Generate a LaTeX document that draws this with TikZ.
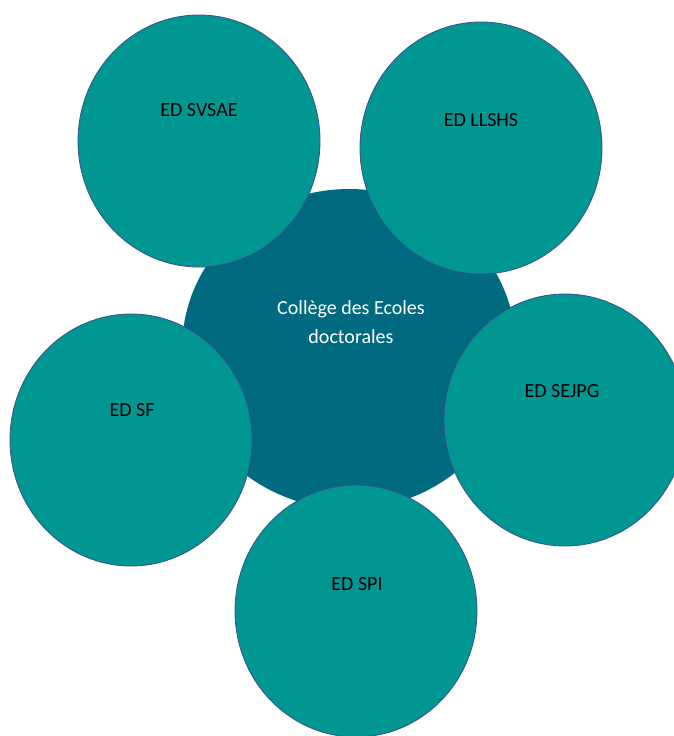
\documentclass[tikz,border=0pt]{standalone}
\usepackage{fontspec}
\setmainfont{Carlito}
\usetikzlibrary{shapes.geometric}
\definecolor{edteal}{RGB}{0,150,146}
\definecolor{collegeblue}{RGB}{0,106,128}
\definecolor{rimblue}{RGB}{60,78,140}

\begin{document}
\begin{tikzpicture}[x=1pt,y=-1pt,
	edcircle/.style={ellipse, draw=rimblue, line width=0.8pt, fill=edteal, inner sep=0pt, minimum width=242pt, minimum height=252pt},
	edlabel/.style={anchor=base, text=black, font=\fontsize{20}{24}\selectfont},
	collegelabel/.style={anchor=base, text=white, font=\fontsize{20}{24}\selectfont}]
	\clip (0,0) rectangle (674,736);
	\fill [white] (0,0) rectangle (674,736);
	\node [ellipse, fill=collegeblue, inner sep=0pt, minimum width=334pt, minimum height=320pt] (college) at (349,349) {};
	\node [collegelabel] (collegeA) at (351,314) {Collège des Ecoles};
	\node [collegelabel] (collegeB) at (351,343) {doctorales};
	\node [edcircle] (svsae) at (199,141) {};
	\node [edlabel] (svsaeText) at (199,116) {ED SVSAE};
	\node [edcircle] (llshs) at (481,148) {};
	\node [edlabel] (llshsText) at (481,126) {ED LLSHS};
	\node [edcircle] (sejpg) at (565,420) {};
	\node [edlabel] (sejpgText) at (562,397) {ED SEJPG};
	\node [edcircle] (sf) at (131,440) {};
	\node [edlabel] (sfText) at (132,416) {ED SF};
	\node [edcircle] (spi) at (356,611) {};
	\node [edlabel] (spiText) at (357,590) {ED SPI};
\end{tikzpicture}
\end{document}
